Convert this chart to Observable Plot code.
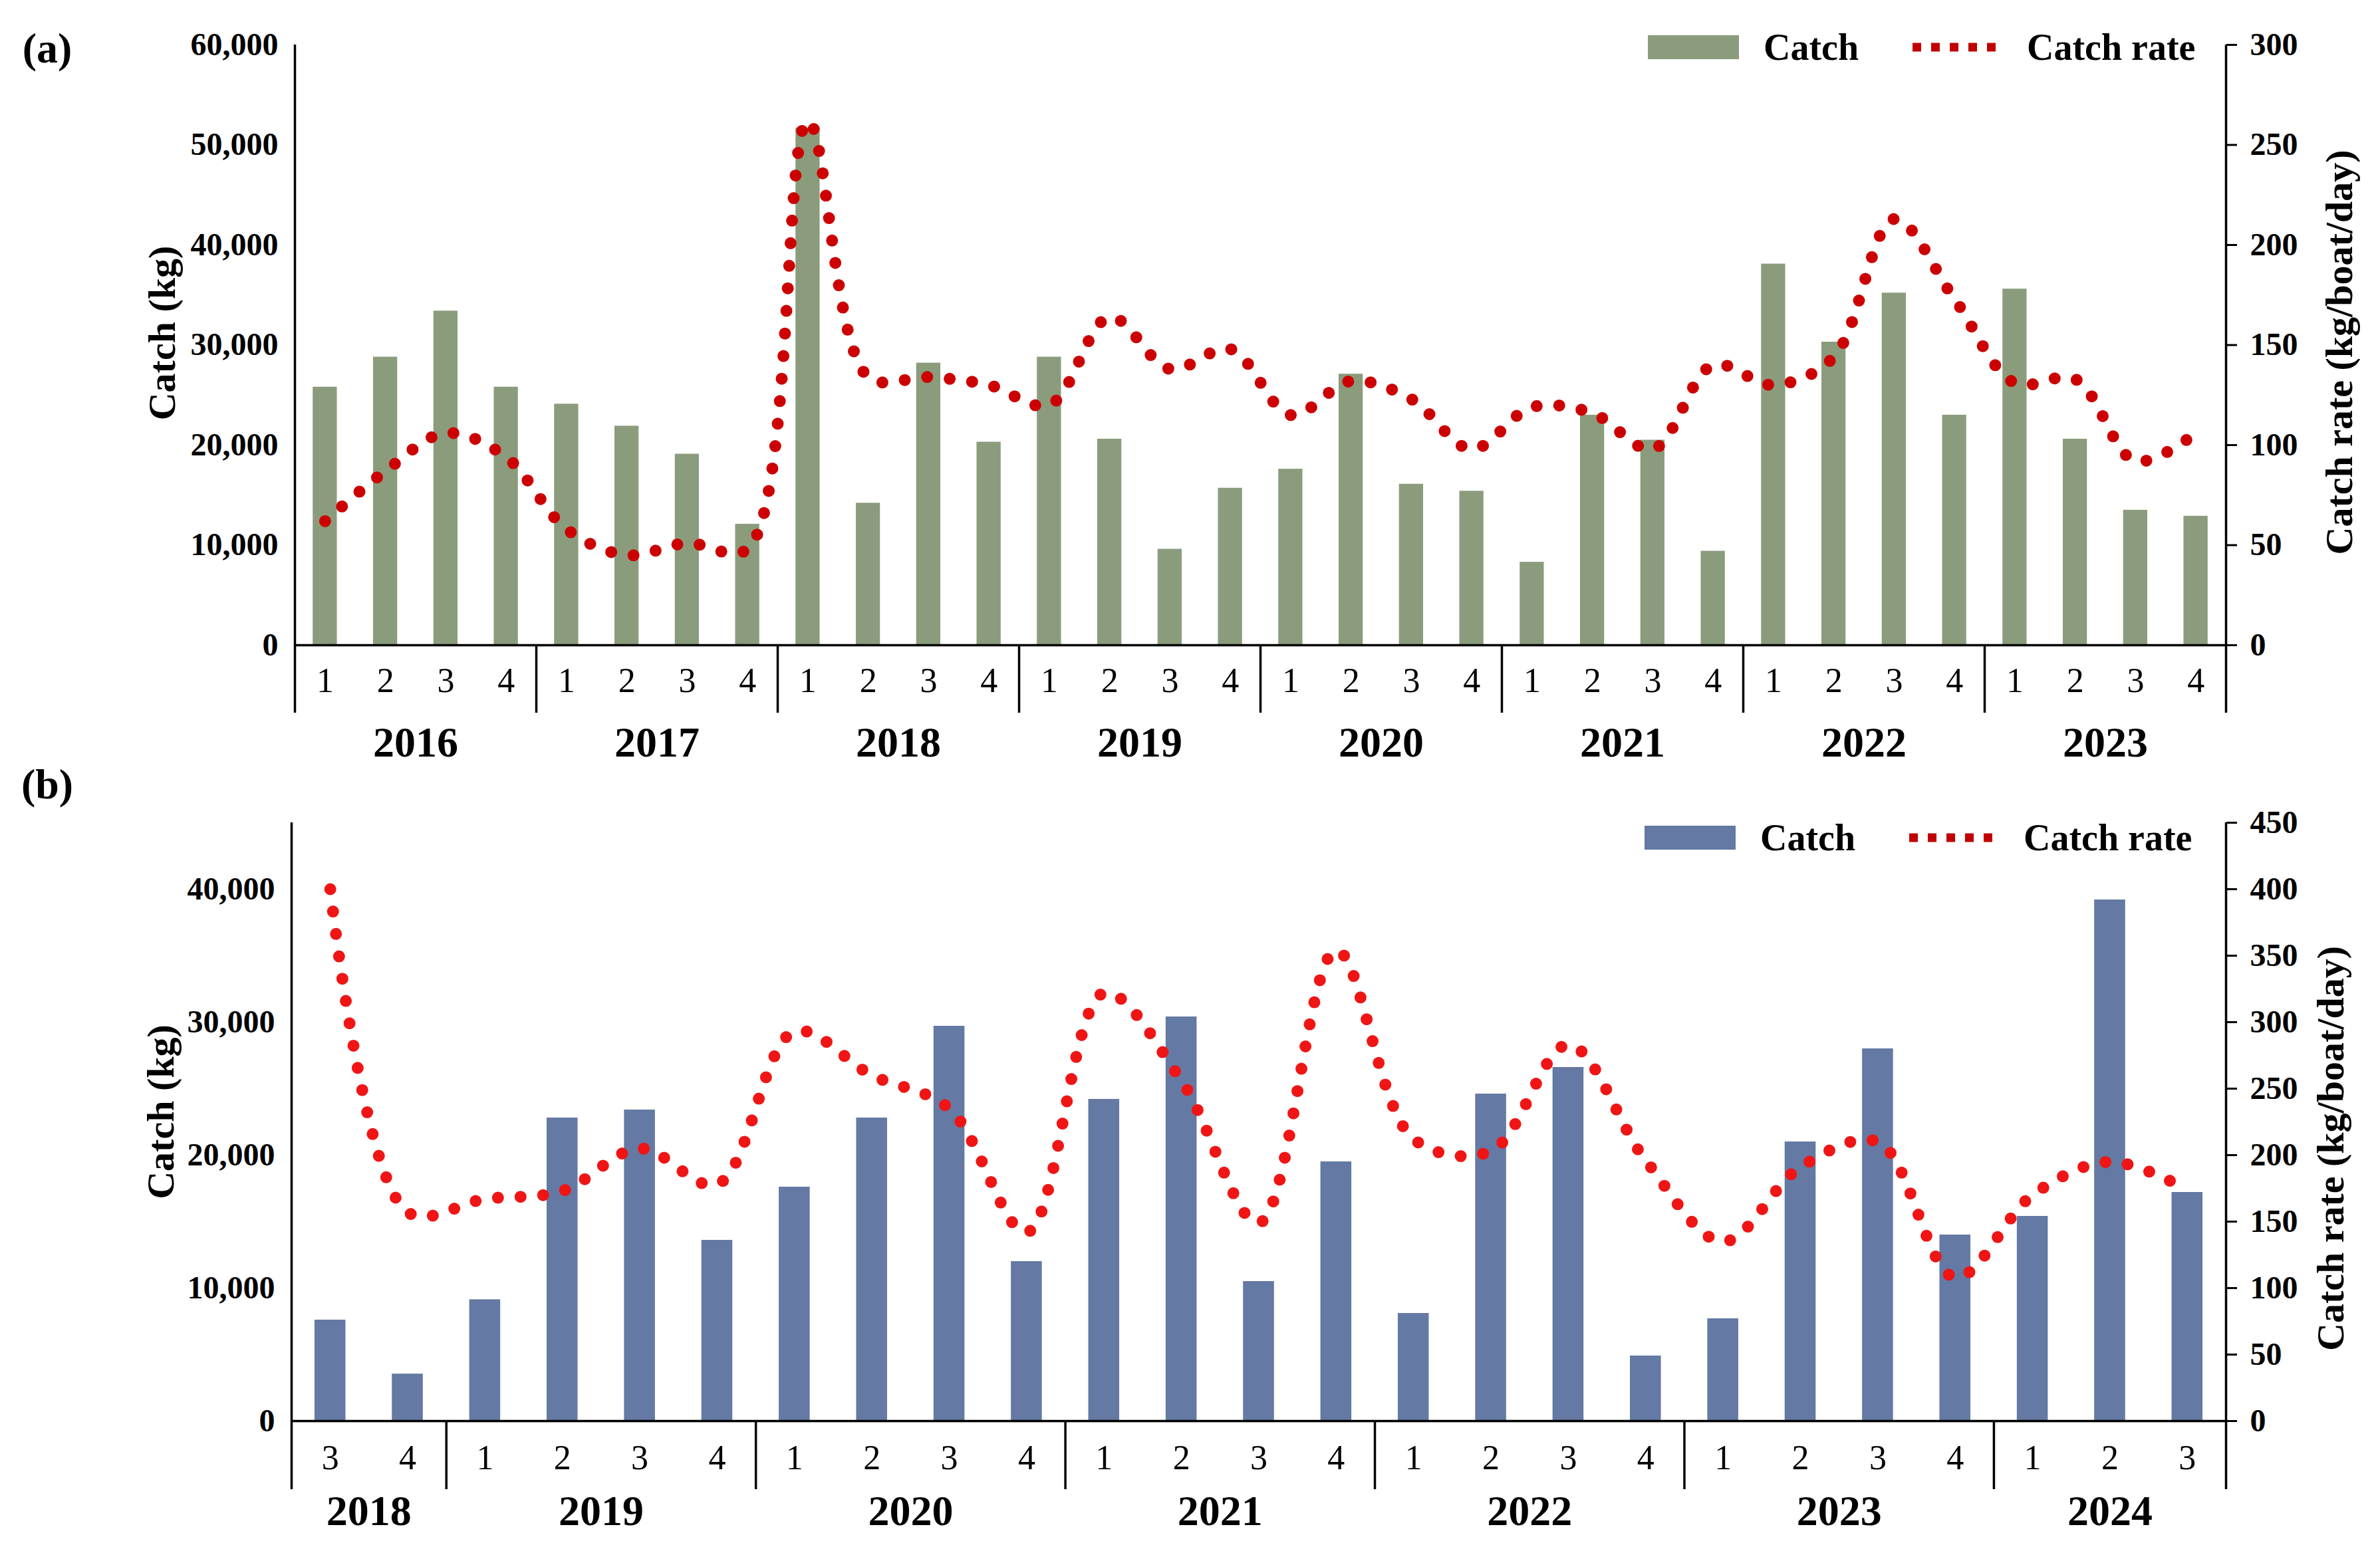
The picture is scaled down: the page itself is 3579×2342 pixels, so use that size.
<!DOCTYPE html>
<html>
<head>
<meta charset="utf-8">
<script src="https://cdn.jsdelivr.net/npm/d3@7"></script>
<script src="https://cdn.jsdelivr.net/npm/@observablehq/plot@0.6"></script>
<style>
  body { margin: 0; background: #fff; font-family: "Liberation Serif", "Times New Roman", serif; }
  #root { width: 3579px; }
  .panel { position: relative; width: 3579px; }
  .panel svg { display: block; }
  .tag { position: absolute; font-weight: bold; font-size: 64px; line-height: 1; transform: translate(-50%, -50%); }
  .lg { position: absolute; }
  .lgtext { position: absolute; font-weight: bold; font-size: 56px; line-height: 1; transform: translateY(-50%); white-space: nowrap; }
</style>
</head>
<body>
<div id="root"></div>
<script>
// ---------------- Panel (a) data ----------------
const yearsA = [2016, 2017, 2018, 2019, 2020, 2021, 2022, 2023];
const quartersA = [[1,2,3,4],[1,2,3,4],[1,2,3,4],[1,2,3,4],[1,2,3,4],[1,2,3,4],[1,2,3,4],[1,2,3,4]];
const catchA = [25800, 28800, 33400, 25800, 24100, 21900, 19100, 12100,
                51700, 14200, 28200, 20300, 28800, 20600, 9600, 15700,
                17600, 27100, 16100, 15400, 8300, 23000, 20500, 9400,
                38100, 30300, 35200, 23000, 35600, 20600, 13500, 12900];
const rateA = [62, 87, 106, 94, 58, 45, 51, 48,
               262, 134, 134, 130, 120, 164, 138, 148,
               115, 132, 123, 98, 119, 116, 98, 140,
               130, 144, 213, 173, 131, 133, 92, 106];
const leftTicksA = [0, 10000, 20000, 30000, 40000, 50000, 60000];
const rightTicksA = [0, 50, 100, 150, 200, 250, 300];

// ---------------- Panel (b) data ----------------
const yearsB = [2018, 2019, 2020, 2021, 2022, 2023, 2024];
const quartersB = [[3,4],[1,2,3,4],[1,2,3,4],[1,2,3,4],[1,2,3,4],[1,2,3,4],[1,2,3]];
const catchB = [7600, 3540, 9130, 22800, 23400, 13600, 17600, 22800, 29700, 12000,
                24200, 30400, 10500, 19500, 8100, 24600, 26600, 4900,
                7700, 21000, 28000, 14000, 15400, 39200, 17200];
const rateB = [400, 157, 167, 173, 205, 178, 293, 260, 235, 142,
               322, 256, 149, 354, 212, 203, 283, 196,
               135, 191, 210, 108, 170, 195, 174];
const leftTicksB = [0, 10000, 20000, 30000, 40000];
const rightTicksB = [0, 50, 100, 150, 200, 250, 300, 350, 400, 450];

const yLabel = "Catch (kg)";
const y2Label = "Catch rate (kg/boat/day)";

function buildRows(years, quarters, catches, rates) {
  const rows = [], groups = [];
  let i = 0;
  years.forEach((y, k) => {
    const start = i;
    quarters[k].forEach(q => { rows.push({i, year: y, q, c: catches[i], r: rates[i]}); i++; });
    groups.push({year: y, start, end: i});
  });
  return {rows, groups, n: i};
}

function panel(cfg) {
  const {rows, groups, n} = buildRows(cfg.years, cfg.quarters, cfg.catches, cfg.rates);
  const ratio = cfg.ratio;
  const fmt = d3.format(",");
  return Plot.plot({
    width: 3579,
    height: cfg.height,
    marginLeft: cfg.marginLeft,
    marginRight: 232,
    marginTop: cfg.marginTop,
    marginBottom: cfg.marginBottom,
    style: {fontFamily: "Liberation Serif, Times New Roman, serif", background: "#fff", color: "#000", overflow: "visible"},
    x: {domain: [0, n], axis: null},
    y: {domain: [0, cfg.ymax], axis: null},
    marks: [
      Plot.rectY(rows, {x1: d => d.i + 0.3, x2: d => d.i + 0.7, y1: 0, y2: "c", fill: cfg.barColor}),
      Plot.line(rows, {x: d => d.i + 0.5, y: d => d.r * ratio, curve: "catmull-rom",
        stroke: cfg.lineColor, strokeWidth: 18, strokeDasharray: "0 34", strokeLinecap: "round"}),
      Plot.ruleY([0], {strokeWidth: 3.5}),
      Plot.ruleX([0, n], {y1: 0, y2: cfg.ymax, insetTop: cfg.sepLen, strokeWidth: 3.5}),
      Plot.ruleX(groups.slice(1).map(g => g.start), {x: d => d, y1: 0, y2: 0, insetTop: cfg.sepLen, strokeWidth: 3.5}),
      Plot.text(rows, {x: d => d.i + 0.5, y: 0, text: d => String(d.q), dy: cfg.qDy, fontSize: 52}),
      Plot.text(groups, {x: g => (g.start + g.end) / 2, y: 0, text: g => String(g.year), dy: cfg.yearDy, fontSize: 64, fontWeight: "bold"}),
      Plot.axisY({ticks: cfg.leftTicks, tickFormat: fmt, tickSize: 0, tickPadding: 25, fontSize: 48, fontWeight: "bold", label: null}),
      Plot.axisY({anchor: "right", ticks: cfg.rightTicks.map(v => v * ratio), tickFormat: d => fmt(d / ratio),
        tickSize: 16, tickPadding: 20, strokeWidth: 3, fontSize: 48, fontWeight: "bold", label: null}),
      Plot.text([yLabel], {frameAnchor: "left", textAnchor: "middle", rotate: -90, dx: cfg.lDx, dy: cfg.lDy, fontSize: 58, fontWeight: "bold"}),
      Plot.text([y2Label], {frameAnchor: "right", textAnchor: "middle", rotate: -90, dx: cfg.rDx, dy: cfg.rDy, fontSize: 58, fontWeight: "bold"})
    ]
  });
}

function addLegend(div, top, left, barColor) {
  const sw = document.createElement("div");
  sw.className = "lg";
  Object.assign(sw.style, {left: left + "px", top: (top - 18) + "px", width: "137px", height: "36px", background: barColor});
  div.appendChild(sw);
  const t1 = document.createElement("div");
  t1.className = "lgtext"; t1.textContent = "Catch";
  Object.assign(t1.style, {left: (left + 174) + "px", top: top + "px"});
  div.appendChild(t1);
  const ns = "http://www.w3.org/2000/svg";
  const s = document.createElementNS(ns, "svg");
  s.setAttribute("width", "128"); s.setAttribute("height", "14");
  s.setAttribute("class", "lg");
  Object.assign(s.style, {left: (left + 398) + "px", top: (top - 7) + "px"});
  const ln = document.createElementNS(ns, "line");
  ln.setAttribute("x1", "0"); ln.setAttribute("x2", "128"); ln.setAttribute("y1", "7"); ln.setAttribute("y2", "7");
  ln.setAttribute("stroke", "#c00000"); ln.setAttribute("stroke-width", "13"); ln.setAttribute("stroke-dasharray", "13 15");
  s.appendChild(ln);
  div.appendChild(s);
  const t2 = document.createElement("div");
  t2.className = "lgtext"; t2.textContent = "Catch rate";
  Object.assign(t2.style, {left: (left + 570) + "px", top: top + "px"});
  div.appendChild(t2);
}

const root = document.getElementById("root");

// Panel (a)
const pa = document.createElement("div");
pa.className = "panel";
pa.appendChild(panel({
  years: yearsA, quarters: quartersA, catches: catchA, rates: rateA,
  ratio: 200, ymax: 60000, height: 1150, marginLeft: 443, marginTop: 67, marginBottom: 180,
  barColor: "#8a9c7c", lineColor: "#cc0000",
  leftTicks: leftTicksA, rightTicks: rightTicksA,
  sepLen: 102, qDy: 54, yearDy: 147,
  lDx: -199, lDy: -18, rDx: 171, rDy: 11
}));
const tagA = document.createElement("div");
tagA.className = "tag"; tagA.textContent = "(a)";
Object.assign(tagA.style, {left: "71px", top: "73px"});
pa.appendChild(tagA);
addLegend(pa, 71, 2478, "#8a9c7c");
root.appendChild(pa);

// Panel (b)
const pb = document.createElement("div");
pb.className = "panel";
pb.appendChild(panel({
  years: yearsB, quarters: quartersB, catches: catchB, rates: rateB,
  ratio: 100, ymax: 45000, height: 1192, marginLeft: 438, marginTop: 87, marginBottom: 205,
  barColor: "#6479a3", lineColor: "#f01515",
  leftTicks: leftTicksB, rightTicks: rightTicksB,
  sepLen: 103, qDy: 56, yearDy: 136,
  lDx: -196, lDy: -15, rDx: 158, rDy: 40
}));
const tagB = document.createElement("div");
tagB.className = "tag"; tagB.textContent = "(b)";
Object.assign(tagB.style, {left: "71px", top: "30px"});
pb.appendChild(tagB);
addLegend(pb, 110, 2473, "#6479a3");
root.appendChild(pb);
</script>
</body>
</html>
